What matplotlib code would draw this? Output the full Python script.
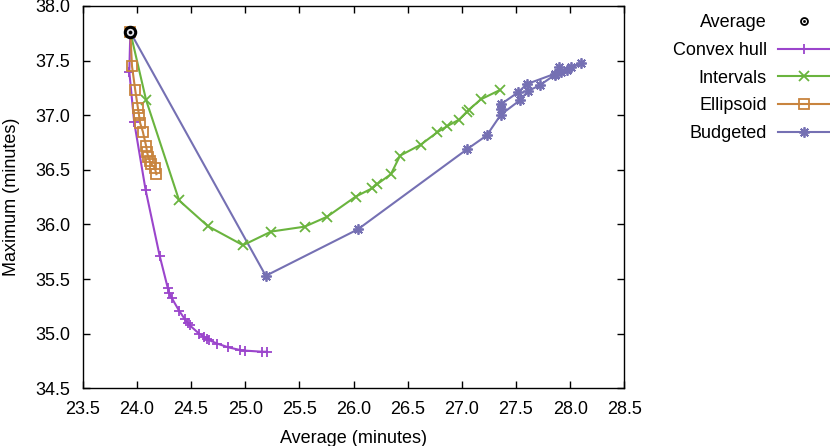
import matplotlib
matplotlib.use("Agg")
import matplotlib.pyplot as plt
from matplotlib.ticker import FormatStrFormatter, MultipleLocator

plt.rcParams['font.family'] = ['Liberation Sans', 'DejaVu Sans']

avg_x = [23.94]
avg_y = [37.76]

hull_x = [23.94, 23.93, 23.975, 24.08, 24.21, 24.285, 24.30, 24.32, 24.39, 24.445, 24.47, 24.49,
          24.575, 24.62, 24.645, 24.67, 24.74, 24.845, 24.955, 25.00, 25.155, 25.20]
hull_y = [37.76, 37.40, 36.94, 36.32, 35.715, 35.42, 35.37, 35.33, 35.21, 35.13, 35.10, 35.075,
          35.00, 34.97, 34.955, 34.94, 34.91, 34.875, 34.85, 34.845, 34.835, 34.835]

int_x = [23.94, 24.085, 24.39, 24.655, 24.98, 25.24, 25.55, 25.755, 26.02, 26.17, 26.22, 26.345,
         26.43, 26.62, 26.775, 26.865, 26.975, 27.045, 27.065, 27.175, 27.35]
int_y = [37.76, 37.14, 36.22, 35.985, 35.81, 35.935, 35.98, 36.07, 36.255, 36.33, 36.37, 36.46,
         36.63, 36.73, 36.845, 36.90, 36.96, 37.03, 37.05, 37.145, 37.23]

ell_x = [23.94, 23.955, 23.985, 24.01, 24.02, 24.03, 24.055, 24.085, 24.095, 24.105, 24.12, 24.135,
         24.165, 24.18]
ell_y = [37.76, 37.45, 37.23, 37.065, 37.00, 36.93, 36.85, 36.72, 36.66, 36.62, 36.58, 36.55,
         36.52, 36.46]

bud_x = [23.94, 25.19, 26.04, 27.05, 27.23, 27.36, 27.54, 27.61, 27.72, 27.86, 27.90, 27.92,
         27.97, 28.01, 28.10, 27.86, 27.60, 27.52, 27.36, 27.36]
bud_y = [37.76, 35.53, 35.955, 36.69, 36.815, 37.005, 37.14, 37.22, 37.275, 37.37, 37.44, 37.40,
         37.415, 37.445, 37.475, 37.38, 37.285, 37.21, 37.10, 37.06]

c_hull = '#9b45cc'
c_int = '#6ab43e'
c_ell = '#c8843e'
c_bud = '#7570b3'

fig = plt.figure(figsize=(8.3, 4.46), dpi=100)
ax = fig.add_axes([82.7/830, 1-388.3/446, (624.3-82.7)/830, (388.3-6)/446])

lw = 1.5
h_hull, = ax.plot(hull_x, hull_y, color=c_hull, lw=lw, marker='+', ms=7.5, mew=1.3, zorder=3)
h_int, = ax.plot(int_x, int_y, color=c_int, lw=lw, marker='x', ms=6.5, mew=1.3, zorder=3)
h_ell, = ax.plot(ell_x, ell_y, color=c_ell, lw=lw, marker='s', ms=6.5, mew=1.3, mfc='none', zorder=3)
h_bud, = ax.plot(bud_x, bud_y, color=c_bud, lw=lw, marker=(8, 2, 0), ms=7.5, mew=1.3, zorder=2)
h_avg1, = ax.plot(avg_x, avg_y, linestyle='none', marker='o', ms=7.5, mfc='#e8e8f0', mec='black',
                  mew=2.2, zorder=5)
h_avg2, = ax.plot(avg_x, avg_y, linestyle='none', marker='o', ms=2.2, mfc='black', mec='black',
                  mew=0.5, zorder=6)

ax.set_xlim(23.5, 28.5)
ax.set_ylim(34.5, 38.0)
ax.xaxis.set_major_locator(MultipleLocator(0.5))
ax.yaxis.set_major_locator(MultipleLocator(0.5))
ax.xaxis.set_major_formatter(FormatStrFormatter('%.1f'))
ax.yaxis.set_major_formatter(FormatStrFormatter('%.1f'))
ax.tick_params(direction='in', top=True, right=True, length=5, width=1, labelsize=13)
ax.tick_params(axis='x', pad=9)
ax.tick_params(axis='y', pad=9)
for s in ax.spines.values():
    s.set_linewidth(1)

ax.set_xlabel('Average (minutes)', fontsize=13, labelpad=9)
ax.set_ylabel('Maximum (minutes)', fontsize=13, labelpad=11)

# legend-only average marker (small open circle with centre dot)
leg_avg1, = ax.plot([], [], linestyle='none', marker='o', ms=5, mfc='none', mec='black', mew=1.3)
leg_avg2, = ax.plot([], [], linestyle='none', marker='o', ms=1.5, mfc='black', mec='black', mew=0.5)

leg = fig.legend([(leg_avg1, leg_avg2), h_hull, h_int, h_ell, h_bud],
                 ['Average', 'Convex hull', 'Intervals', 'Ellipsoid', 'Budgeted'],
                 loc='upper right', bbox_to_anchor=(1.0, 1 - 14/446), frameon=False,
                 markerfirst=False, fontsize=13, handlelength=2.9, handletextpad=0.6,
                 labelspacing=0.6, borderpad=0, borderaxespad=0)

fig.savefig('out.png', dpi=100)
